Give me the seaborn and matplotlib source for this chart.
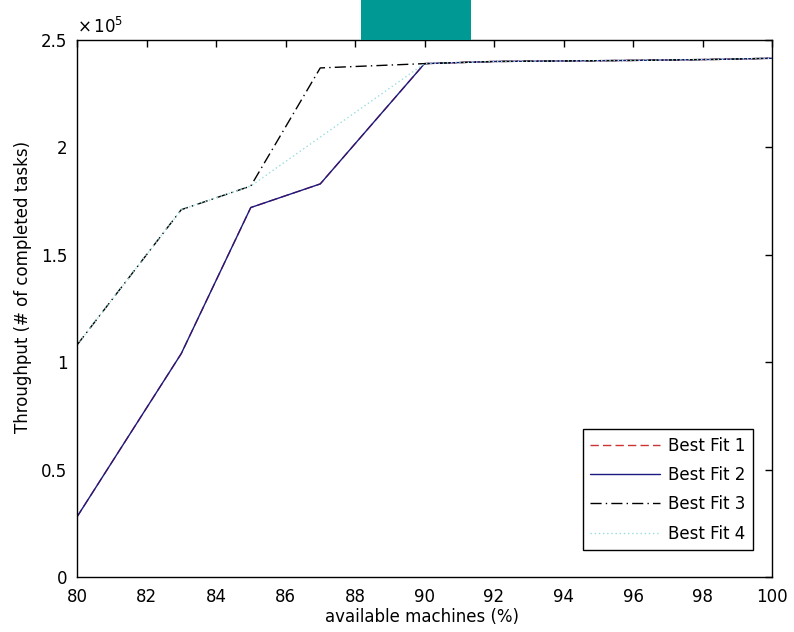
import matplotlib
matplotlib.use("Agg")
import matplotlib.pyplot as plt
import seaborn as sns
import pandas as pd
from matplotlib.patches import Rectangle

x_fit1 = [80, 83, 85, 87, 90, 91, 92, 96, 98.5, 100]
y_fit1 = [0.28, 1.04, 1.72, 1.83, 2.39, 2.395, 2.40, 2.405, 2.41, 2.415]
x_fit2 = [80, 83, 85, 87, 90, 91, 92, 96, 98.5, 100]
y_fit2 = [0.28, 1.04, 1.72, 1.83, 2.39, 2.395, 2.40, 2.405, 2.41, 2.415]
x_fit3 = [80, 83, 85, 87, 90, 91, 92, 96, 98.5, 100]
y_fit3 = [1.08, 1.71, 1.82, 2.37, 2.39, 2.395, 2.40, 2.405, 2.41, 2.415]
x_fit4 = [80, 83, 85, 90, 91, 92, 96, 98.5, 100]
y_fit4 = [1.08, 1.71, 1.82, 2.39, 2.395, 2.40, 2.405, 2.41, 2.415]
labels = ["Best Fit 1", "Best Fit 2", "Best Fit 3", "Best Fit 4"]
x_ticks = [80, 82, 84, 86, 88, 90, 92, 94, 96, 98, 100]
y_ticks = [0, 0.5, 1, 1.5, 2, 2.5]
y_tick_labels = ["0", "0.5", "1", "1.5", "2", "2.5"]

sns.set_style("white")
plt.rcParams['font.family'] = ['DejaVu Sans']
plt.rcParams['text.color'] = 'black'
plt.rcParams['axes.labelcolor'] = 'black'
FS = 12

fig = plt.figure(figsize=(7.94, 6.32), dpi=100)
ax = fig.add_axes([77/794, 0.087, 695/794, 0.8497])

series = [(x_fit1, y_fit1), (x_fit2, y_fit2), (x_fit3, y_fit3), (x_fit4, y_fit4)]
styles = [
    dict(color="#cc3333", linestyle=(0, (6, 3))),
    dict(color="#1a1a80", linestyle="-"),
    dict(color="black", linestyle=(0, (8, 3, 1, 3))),
    dict(color="#99dddd", linestyle=(0, (1, 2))),
]
for (xs, ys), lab, st in zip(series, labels, styles):
    df = pd.DataFrame({"x": xs, "y": ys})
    sns.lineplot(data=df, x="x", y="y", ax=ax, label=lab, linewidth=1.0, **st)

ax.set_xlim(80, 100)
ax.set_ylim(0, 2.5)
ax.set_xticks(x_ticks)
ax.set_yticks(y_ticks)
ax.set_yticklabels(y_tick_labels)
ax.tick_params(direction="in", top=True, right=True, length=5, width=1,
               labelsize=FS, colors="black")
ax.tick_params(axis="x", pad=8)
ax.tick_params(axis="y", pad=7)
for s in ax.spines.values():
    s.set_color("black")
    s.set_linewidth(1.0)
    s.set_visible(True)
ax.set_xlabel("available machines (%)", fontsize=FS, color="black")
ax.set_ylabel("Throughput (# of completed tasks)", fontsize=FS, color="black")
ax.xaxis.set_label_coords(0.496, -0.058)
ax.yaxis.set_label_coords(-0.065, 0.54)
ax.text(0.0, 1.006, r"$\times\,10^{5}$", transform=ax.transAxes, fontsize=FS,
        ha="left", va="bottom", color="black")

leg = ax.legend(loc="lower right", bbox_to_anchor=(0.973, 0.05), fontsize=FS,
                frameon=True, fancybox=False, framealpha=1, edgecolor="black",
                handlelength=4.2, handletextpad=0.5, borderpad=0.45,
                labelspacing=0.68, borderaxespad=0)
leg.get_frame().set_linewidth(1.0)
for t in leg.get_texts():
    t.set_color("black")

fig.patches.append(Rectangle((361/794, 1 - 40/632), 110/794, 40/632,
                             transform=fig.transFigure, facecolor="#009994",
                             edgecolor="none", zorder=10))

fig.savefig("out.png", dpi=100)
